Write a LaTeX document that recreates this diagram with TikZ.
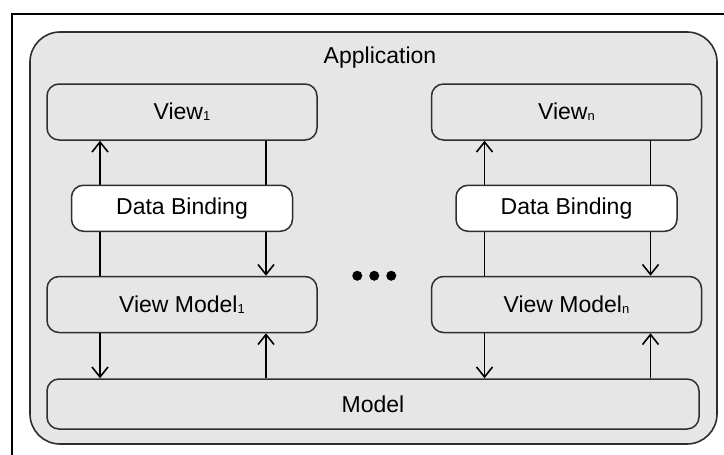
\documentclass[tikz,border=0pt]{standalone}
\usepackage{fontspec}
\setmainfont{Liberation Sans}
\usetikzlibrary{arrows.meta,positioning,calc}
\definecolor{panel}{HTML}{E6E6E6}
\definecolor{rim}{HTML}{2E2E2E}
\newcommand{\idx}[1]{\raisebox{-1pt}{\fontsize{13}{13}\selectfont #1}}

\begin{document}
\begin{tikzpicture}[x=1pt, y=-1pt, font=\fontsize{23}{27}\selectfont,
        layer/.style = {draw=rim, line width=1.5pt, rounded corners=12pt, fill=panel,
                        minimum width=270pt, minimum height=56pt, inner sep=0pt},
        bind/.style = {layer, fill=white, minimum width=221pt, minimum height=46pt},
        flow/.style = {line width=1.6pt, -{Straight Barb[length=10pt, width=16pt]}}]
    \useasboundingbox (0,0) rectangle (724,455);
    \draw[line width=1.6pt] (12,455) -- (12,14) -- (724,14);
    \draw[draw=rim, line width=1.6pt, fill=panel, rounded corners=30pt] (30,32) rectangle (717,444);
    \node (app) at (380,58) {Application};

    \node[layer] (view1) at (182,112) {View\idx{1}};
    \node[layer] (viewn) [right=113pt of view1] {View\idx{n}};
    \node[layer] (vm1) [below=135pt of view1] {View Model\idx{1}};
    \node[layer] (vmn) [below=135pt of viewn] {View Model\idx{n}};
    \node[layer, minimum width=652pt, minimum height=50pt] (model)
        [below=45pt of vm1.south west, anchor=north west] {Model};

    \foreach \c in {1,n} {
        \draw[flow] ([xshift=-82pt]vm\c.north) -- ([xshift=-82pt]view\c.south);
        \draw[flow] ([xshift=84pt]view\c.south) -- ([xshift=84pt]vm\c.north);
        \draw[flow] ([xshift=-82pt]vm\c.south) -- ([xshift=-82pt]vm\c.south |- model.north);
        \draw[flow] ([xshift=84pt]vm\c.south |- model.north) -- ([xshift=84pt]vm\c.south);
    }

    \node[bind] (db1) at ($(view1.south)!.5!(vm1.north)$) {Data Binding};
    \node[bind] (dbn) at ($(viewn.south)!.5!(vmn.north)$) {Data Binding};

    \coordinate (gap) at ($(vm1.north east)!.5!(vmn.north west)$);
    \foreach \dx in {-17,0,17}
        \fill ([xshift=\dx pt]gap) circle (5pt);
\end{tikzpicture}
\end{document}
